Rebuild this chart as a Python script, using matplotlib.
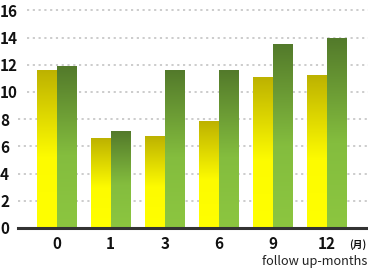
import numpy as np
import matplotlib.pyplot as plt
from matplotlib.colors import LinearSegmentedColormap

plt.rcParams["font.family"] = ["Noto Sans CJK JP", "DejaVu Sans"]

months = ["0", "1", "3", "6", "9", "12"]
series_a = [11.6, 6.6, 6.7, 7.8, 11.1, 11.2]
series_b = [11.9, 7.1, 11.6, 11.6, 13.5, 13.9]
y_ticks = [0, 2, 4, 6, 8, 10, 12, 14, 16]

yellow_cmap = LinearSegmentedColormap.from_list(
    "yel", [(0.0, "#ffff00"), (0.45, "#fdfb00"), (1.0, "#bdb200")])
green_cmap = LinearSegmentedColormap.from_list(
    "grn", [(0.0, "#8cc640"), (0.45, "#84bd3e"), (1.0, "#537a2b")])


def gradient_bars(ax, bars, cmap):
    grad = np.linspace(0, 1, 256).reshape(-1, 1)
    for b in bars:
        x0, w, h = b.get_x(), b.get_width(), b.get_height()
        b.set_facecolor("none")
        ax.imshow(grad, cmap=cmap, origin="lower", aspect="auto",
                  extent=(x0, x0 + w, 0, h), zorder=2)


fig = plt.figure(figsize=(3.68, 2.75), dpi=100)
ax = fig.add_axes((18 / 368, 47 / 275, 350 / 368, 224.4 / 275))

x = np.arange(len(months))
width = 0.365
bars_a = ax.bar(x - width / 2, series_a, width, linewidth=0, zorder=2)
bars_b = ax.bar(x + width / 2, series_b, width, linewidth=0, zorder=2)
gradient_bars(ax, bars_a, yellow_cmap)
gradient_bars(ax, bars_b, green_cmap)

ax.set_xlim(-0.717, 5.765)
ax.set_ylim(0, 16.5)

for v in y_ticks[1:]:
    start = 9 / 350 if v >= 10 else 0
    ax.axhline(v, xmin=start, xmax=1, color="#c8c8c8", linewidth=1.3,
               linestyle=(0, (1.2, 2.0)), zorder=1, clip_on=False)

ax.set_yticks(y_ticks)
ax.set_yticklabels([str(v) for v in y_ticks], ha="left", fontsize=11,
                   fontweight="bold", color="#111111")
ax.tick_params(axis="y", length=0, pad=12.9)
ax.set_xticks(x)
ax.set_xticklabels(months, fontsize=11, fontweight="bold", color="#111111")
ax.tick_params(axis="x", length=0, pad=5.5)

for side in ["left", "right", "top"]:
    ax.spines[side].set_visible(False)
ax.spines["bottom"].set_color("#333333")
ax.spines["bottom"].set_linewidth(2.2)
ax.spines["bottom"].set_zorder(3)

fig.text(358 / 368, 1 - 245 / 275, "(月)", fontsize=7, fontweight="bold",
         ha="center", va="center", color="#111111")
fig.text(367 / 368, 1 - 262 / 275, "follow up-months", fontsize=9.2,
         ha="right", va="center", color="#222222")

fig.savefig("out.png", dpi=100)
